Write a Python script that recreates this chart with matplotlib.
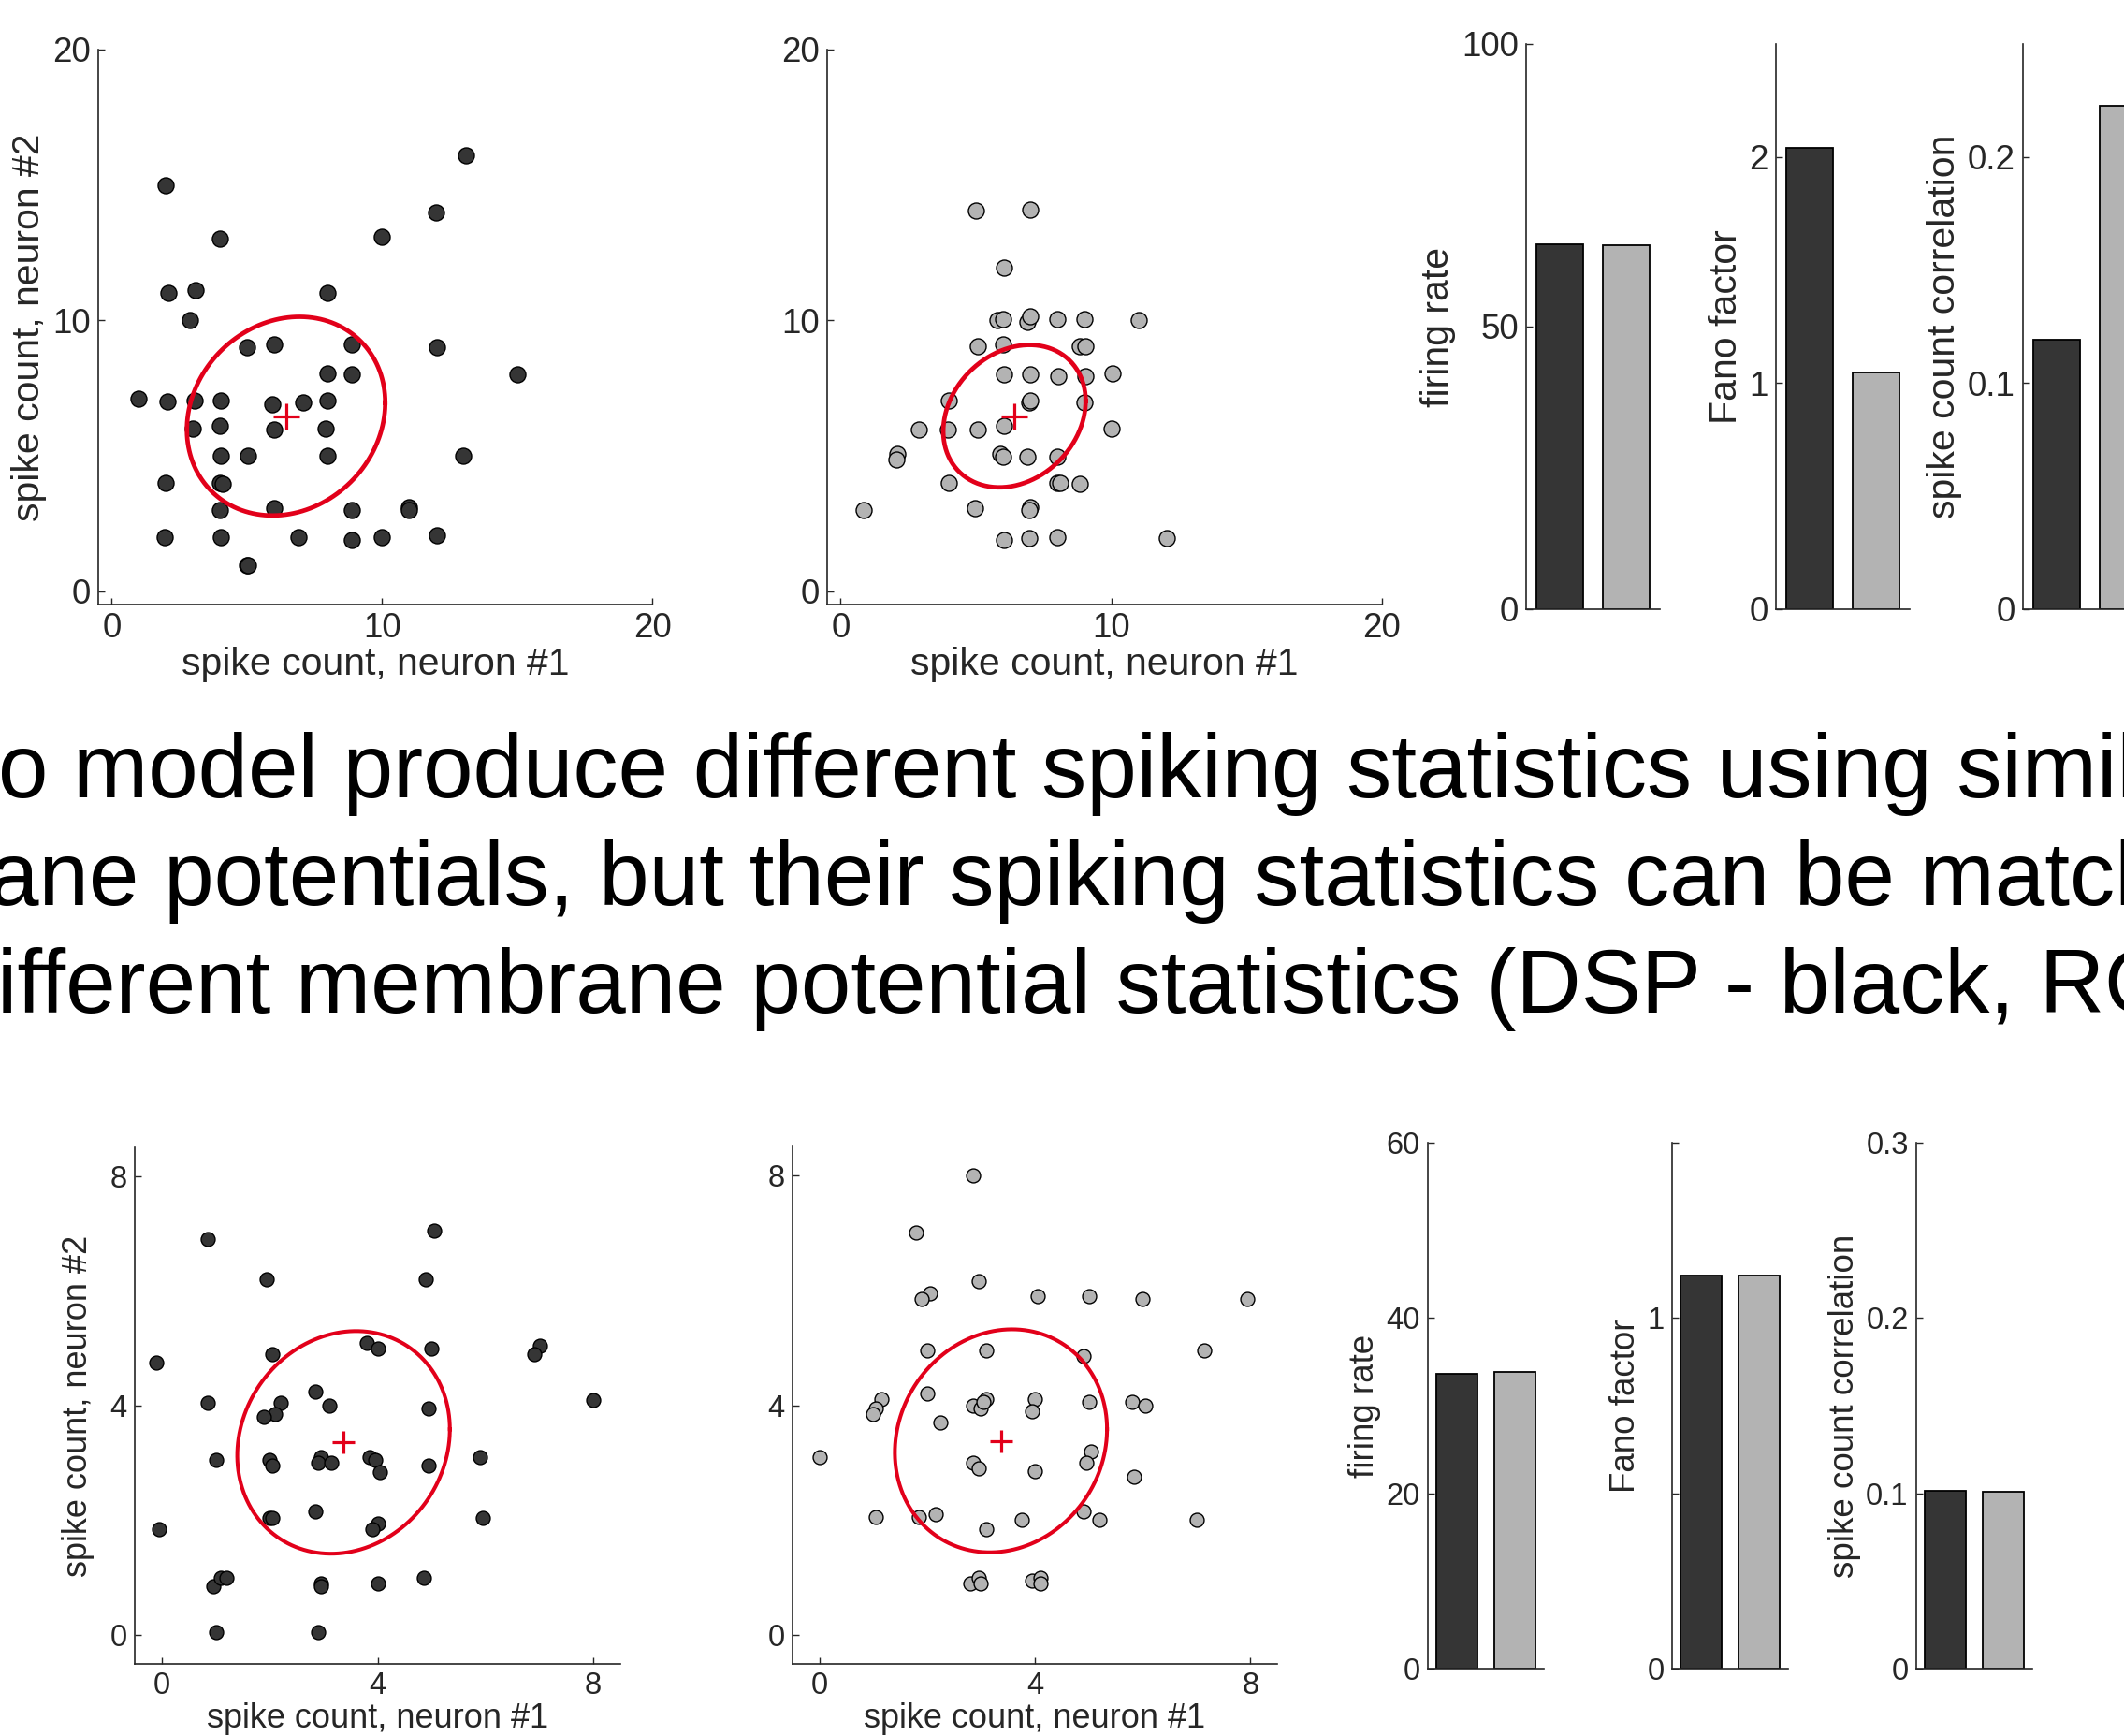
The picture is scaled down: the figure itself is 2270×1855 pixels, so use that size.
import numpy as np
import matplotlib
matplotlib.use('Agg')
import matplotlib.pyplot as plt

plt.rcParams['font.family'] = ['Liberation Sans', 'DejaVu Sans']

W, H = 2270, 1855

# ---- top row: spike counts of neuron #1 / #2 (DSP = dark, RO = gray)
top_dsp_n1 = [2, 13.1, 4, 12, 10, 2.1, 3.1, 2.9, 8, 5, 6, 8.9, 12.05, 8, 8.9, 15,
              1.0, 2.05, 3.05, 4.05, 5.95, 7.1, 8, 3, 4, 6, 7.9, 4.05, 5.05, 8, 13,
              2, 4, 4.1, 4, 6, 8.9, 11, 11, 1.95, 4.05, 6.9, 8.9, 10, 12.05, 5, 5.05]
top_dsp_n2 = [15, 16.1, 13, 14, 13.1, 11, 11.1, 10, 11, 9, 9.1, 9.1, 9, 8.05, 8, 8,
              7.1, 7, 7.05, 7.05, 6.9, 6.95, 7.05, 6, 6.1, 5.95, 6, 5, 5, 5, 5,
              4, 4, 3.95, 3, 3.05, 3, 3.1, 3.0, 2, 2, 2, 1.9, 2, 2.05, 0.95, 0.95]
top_ro_n1 = [5, 7, 6.05, 5.8, 6, 6.9, 7.0, 8, 9, 11, 5.05, 6, 8.85, 9.05, 6.05, 7,
             8.05, 9.05, 10.05, 4, 6.95, 7.0, 9, 2.9, 3.95, 5.05, 6.05, 10, 2.1, 2.05,
             5.9, 6, 6.9, 8, 4, 8, 8.1, 8.85, 0.85, 4.95, 7, 6.95, 6.05, 6.95, 8, 12.05]
top_ro_n2 = [14.05, 14.1, 11.95, 10, 10.05, 9.95, 10.15, 10.05, 10.05, 10, 9.05, 9.1,
             9.05, 9.05, 8, 8, 7.95, 7.95, 8.05, 7.05, 6.95, 7.05, 6.95, 5.95, 5.95,
             5.95, 6.1, 6, 5.05, 4.85, 5.05, 4.95, 4.95, 4.95, 4, 4, 4, 3.95, 3, 3.05,
             3.1, 3, 1.9, 1.95, 2, 1.95]
top_dsp_mean = [6.45, 6.46]
top_dsp_cov = [[13.47, 1.83], [1.83, 13.47]]
top_ro_mean = [6.42, 6.46]
top_ro_cov = [[6.92, 1.47], [1.47, 6.92]]

top_rate = [64.6, 64.45]
top_fano = [2.04, 1.047]
top_corr = [0.119, 0.2227]

# ---- bottom row
bot_dsp_n1 = [0.85, 5.05, 1.95, 4.9, -0.1, 2.05, 3.8, 4.0, 5.0, 7.0, 6.9, 8, 0.85, 2.2,
              2.1, 1.9, 2.85, 3.1, 4.95, 1.0, 2, 2.05, 2.95, 2.9, 3.15, 3.85, 3.95,
              4.05, 4.95, 5.9, -0.05, 2, 2.05, 2.85, 4.0, 3.9, 5.95, 0.95, 1.1, 1.2,
              2.95, 2.95, 4.0, 4.85, 1.0, 2.9]
bot_dsp_n2 = [6.9, 7.05, 6.2, 6.2, 4.75, 4.9, 5.1, 5.0, 5.0, 5.05, 4.9, 4.1, 4.05, 4.05,
              3.85, 3.8, 4.25, 4.0, 3.95, 3.05, 3.05, 2.95, 3.1, 3.0, 3.0, 3.1, 3.05,
              2.85, 2.95, 3.1, 1.85, 2.05, 2.05, 2.15, 1.95, 1.85, 2.05, 0.85, 1.0, 1.0,
              0.9, 0.85, 0.9, 1.0, 0.05, 0.05]
bot_ro_n1 = [2.85, 1.8, 2.95, 2.05, 1.9, 4.05, 5.0, 6.0, 7.95, 2.0, 3.1, 4.9, 7.15, 1.15,
             1.05, 1.0, 2.0, 2.25, 2.85, 3.0, 3.1, 3.05, 4.0, 3.95, 5.0, 5.8, 6.05, 0.0,
             2.85, 2.95, 4.0, 5.05, 4.95, 5.85, 1.05, 1.85, 2.15, 3.1, 3.75, 4.9, 5.2,
             7.0, 2.8, 2.95, 3.0, 3.95, 4.1, 4.1]
bot_ro_n2 = [8.0, 7.0, 6.15, 5.95, 5.85, 5.9, 5.9, 5.85, 5.85, 4.95, 4.95, 4.85, 4.95,
             4.1, 3.95, 3.85, 4.2, 3.7, 4.0, 3.95, 4.1, 4.05, 4.1, 3.9, 4.05, 4.05, 4.0,
             3.1, 3.0, 2.9, 2.85, 3.2, 3.0, 2.75, 2.05, 2.05, 2.1, 1.85, 2.0, 2.15, 2.0,
             2.0, 0.9, 1.0, 0.9, 0.95, 1.0, 0.9]
bot_dsp_mean = [3.37, 3.36]
bot_dsp_cov = [[3.88, 0.45], [0.45, 3.76]]
bot_ro_mean = [3.37, 3.38]
bot_ro_cov = [[3.88, 0.40], [0.40, 3.76]]

bot_rate = [33.66, 33.8]
bot_fano = [1.12, 1.122]
bot_corr = [0.1016, 0.1009]

caption = ['o model produce different spiking statistics using simil',
           'ane potentials, but their spiking statistics can be match',
           'ifferent membrane potential statistics (DSP - black, RO']

DARK = '#353535'
LIGHT = '#b3b3b3'
RED = '#e2001a'
AXC = '#262626'

fig = plt.figure(figsize=(W / 100, H / 100), dpi=100)


def px_axes(l, t, r, b):
    return fig.add_axes([l / W, 1 - b / H, (r - l) / W, (b - t) / H])


def style(ax, fs):
    ax.spines['top'].set_visible(False)
    ax.spines['right'].set_visible(False)
    for s in ['left', 'bottom']:
        ax.spines[s].set_color(AXC)
        ax.spines[s].set_linewidth(1.2)
    ax.tick_params(direction='in', length=5, width=1, colors=AXC, labelsize=fs, pad=6)


def scatter_panel(ax, xs, ys, mean, cov, face, ms, lims, ticks, fs, fl, ylab, ell_lw, cross, ypad):
    style(ax, fs)
    ax.scatter(xs, ys, s=ms, c=face, edgecolors='k', linewidths=1.0, zorder=2)
    t = np.linspace(0, 2 * np.pi, 300)
    L = np.linalg.cholesky(np.array(cov))
    e = np.array(mean)[:, None] + L @ np.vstack([np.cos(t), np.sin(t)])
    ax.plot(e[0], e[1], color=RED, lw=ell_lw, zorder=3)
    ax.plot(mean[0], mean[1], '+', color=RED, ms=cross, mew=2.3, zorder=4)
    ax.set_xlim(lims)
    ax.set_ylim(lims)
    ax.set_xticks(ticks)
    ax.set_yticks(ticks)
    ax.set_xlabel('spike count, neuron #1', fontsize=fl, color=AXC, labelpad=1)
    if ylab:
        ax.set_ylabel('spike count, neuron #2', fontsize=fl, color=AXC, labelpad=ypad)


def bar_panel(ax, vals, ylim, ticks, labels, ylabel, fs, fl):
    style(ax, fs)
    ax.bar([1, 2], vals, width=0.7, color=[DARK, LIGHT], edgecolor='k', linewidth=1.3)
    ax.set_xlim(0.5, 2.5)
    ax.set_ylim(ylim)
    ax.set_yticks(ticks)
    ax.set_yticklabels(labels)
    ax.tick_params(axis='x', bottom=False, labelbottom=False)
    ax.set_ylabel(ylabel, fontsize=fl, color=AXC, labelpad=4)


# top row
ax = px_axes(105, 53, 697, 646)
scatter_panel(ax, top_dsp_n1, top_dsp_n2, top_dsp_mean, top_dsp_cov, DARK, 150,
              (-0.5, 20), [0, 10, 20], 26.5, 29.5, True, 3.4, 20, 4)
ax = px_axes(884, 53, 1477, 646)
scatter_panel(ax, top_ro_n1, top_ro_n2, top_ro_mean, top_ro_cov, LIGHT, 150,
              (-0.5, 20), [0, 10, 20], 26.5, 29.5, False, 3.4, 20, 4)

ax = px_axes(1631, 47, 1774, 651)
bar_panel(ax, top_rate, (0, 100), [0, 50, 100], ['0', '50', '100'], 'firing rate', 26.5, 29.5)
ax = px_axes(1898, 47, 2041, 651)
bar_panel(ax, top_fano, (0, 2.5), [0, 1, 2], ['0', '1', '2'], 'Fano factor', 26.5, 29.5)
ax = px_axes(2162, 47, 2305, 651)
bar_panel(ax, top_corr, (0, 0.25), [0, 0.1, 0.2], ['0', '0.1', '0.2'],
          'spike count correlation', 26.5, 29.5)

# bottom row
ax = px_axes(144, 1226, 663, 1778)
scatter_panel(ax, bot_dsp_n1, bot_dsp_n2, bot_dsp_mean, bot_dsp_cov, DARK, 115,
              (-0.5, 8.5), [0, 4, 8], 23.5, 26, True, 2.9, 17, 12)
ax = px_axes(847, 1225, 1365, 1778)
scatter_panel(ax, bot_ro_n1, bot_ro_n2, bot_ro_mean, bot_ro_cov, LIGHT, 115,
              (-0.5, 8.5), [0, 4, 8], 23.5, 26, False, 2.9, 17, 12)

ax = px_axes(1526, 1221, 1650, 1783)
bar_panel(ax, bot_rate, (0, 60), [0, 20, 40, 60], ['0', '20', '40', '60'],
          'firing rate', 23.5, 26.5)
ax = px_axes(1787, 1221, 1911, 1783)
bar_panel(ax, bot_fano, (0, 1.5), [0, 0.5, 1, 1.5], ['0', '', '1', ''], 'Fano factor', 23.5, 26.5)
ax = px_axes(2048, 1221, 2172, 1783)
bar_panel(ax, bot_corr, (0, 0.3), [0, 0.1, 0.2, 0.3], ['0', '0.1', '0.2', '0.3'],
          'spike count correlation', 23.5, 26.5)

# caption text, running past both edges of the figure
for line, x0, base in zip(caption, [-2, -12, -3], [852, 967, 1082]):
    fig.text(x0 / W, 1 - base / H, line, fontsize=69.2, color='k', ha='left', va='baseline')

fig.savefig('out.png', dpi=100)
